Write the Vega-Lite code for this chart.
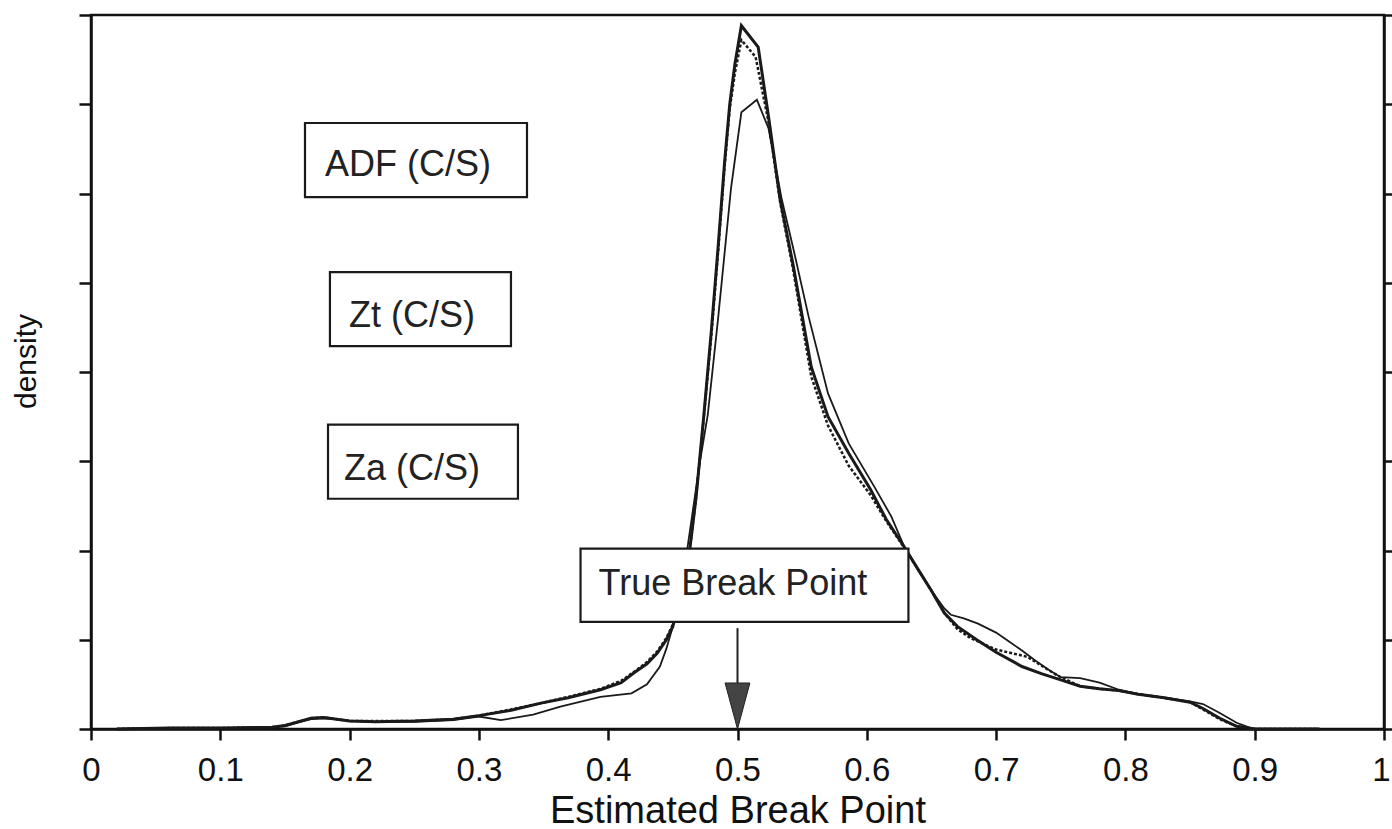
{
  "$schema": "https://vega.github.io/schema/vega-lite/v6.json",
  "width": 1293,
  "height": 714,
  "autosize": {"type": "none"},
  "padding": {"left": 91, "top": 15, "right": 8, "bottom": 100},
  "background": "white",
  "config": {
    "view": {"stroke": "#111", "strokeWidth": 2.5},
    "font": "Liberation Sans",
    "axis": {
      "domainColor": "#111", "domainWidth": 2.5, "tickColor": "#111", "tickWidth": 2.5,
      "labelColor": "#111", "titleColor": "#111", "grid": false,
      "labelFont": "Liberation Sans", "titleFont": "Liberation Sans",
      "labelFontWeight": "normal", "titleFontWeight": "normal"
    }
  },
  "datasets": {
    "curves": [
      {"s":"ADF","x":0.02,"y":0},{"s":"ADF","x":0.06,"y":0.01},{"s":"ADF","x":0.10,"y":0.01},{"s":"ADF","x":0.14,"y":0.02},{"s":"ADF","x":0.15,"y":0.04},{"s":"ADF","x":0.16,"y":0.08},{"s":"ADF","x":0.17,"y":0.12},{"s":"ADF","x":0.18,"y":0.13},{"s":"ADF","x":0.19,"y":0.11},{"s":"ADF","x":0.20,"y":0.09},{"s":"ADF","x":0.22,"y":0.08},{"s":"ADF","x":0.25,"y":0.09},{"s":"ADF","x":0.28,"y":0.11},{"s":"ADF","x":0.30,"y":0.15},{"s":"ADF","x":0.325,"y":0.21},{"s":"ADF","x":0.348,"y":0.29},{"s":"ADF","x":0.369,"y":0.35},{"s":"ADF","x":0.394,"y":0.44},{"s":"ADF","x":0.41,"y":0.52},{"s":"ADF","x":0.42,"y":0.63},{"s":"ADF","x":0.43,"y":0.73},{"s":"ADF","x":0.438,"y":0.85},{"s":"ADF","x":0.445,"y":1.0},{"s":"ADF","x":0.45,"y":1.15},{"s":"ADF","x":0.456,"y":1.5},{"s":"ADF","x":0.463,"y":2.0},{"s":"ADF","x":0.468,"y":2.6},{"s":"ADF","x":0.474,"y":3.52},{"s":"ADF","x":0.48,"y":4.5},{"s":"ADF","x":0.485,"y":5.4},{"s":"ADF","x":0.49,"y":6.35},{"s":"ADF","x":0.494,"y":7.0},{"s":"ADF","x":0.498,"y":7.45},{"s":"ADF","x":0.503,"y":7.88},{"s":"ADF","x":0.516,"y":7.64},{"s":"ADF","x":0.524,"y":6.86},{"s":"ADF","x":0.533,"y":5.93},{"s":"ADF","x":0.543,"y":5.2},{"s":"ADF","x":0.557,"y":4.06},{"s":"ADF","x":0.57,"y":3.5},{"s":"ADF","x":0.586,"y":3.09},{"s":"ADF","x":0.603,"y":2.68},{"s":"ADF","x":0.615,"y":2.35},{"s":"ADF","x":0.629,"y":2.04},{"s":"ADF","x":0.64,"y":1.78},{"s":"ADF","x":0.65,"y":1.55},{"s":"ADF","x":0.66,"y":1.3},{"s":"ADF","x":0.67,"y":1.15},{"s":"ADF","x":0.685,"y":1.0},{"s":"ADF","x":0.70,"y":0.86},{"s":"ADF","x":0.72,"y":0.7},{"s":"ADF","x":0.735,"y":0.62},{"s":"ADF","x":0.75,"y":0.55},{"s":"ADF","x":0.765,"y":0.48},{"s":"ADF","x":0.78,"y":0.45},{"s":"ADF","x":0.795,"y":0.43},{"s":"ADF","x":0.81,"y":0.39},{"s":"ADF","x":0.83,"y":0.35},{"s":"ADF","x":0.85,"y":0.3},{"s":"ADF","x":0.86,"y":0.23},{"s":"ADF","x":0.873,"y":0.12},{"s":"ADF","x":0.886,"y":0.03},{"s":"ADF","x":0.9,"y":0},{"s":"ADF","x":0.95,"y":0},

      {"s":"Zt","x":0.02,"y":0},{"s":"Zt","x":0.06,"y":0.01},{"s":"Zt","x":0.10,"y":0.01},{"s":"Zt","x":0.14,"y":0.02},{"s":"Zt","x":0.15,"y":0.04},{"s":"Zt","x":0.16,"y":0.08},{"s":"Zt","x":0.17,"y":0.12},{"s":"Zt","x":0.18,"y":0.13},{"s":"Zt","x":0.19,"y":0.11},{"s":"Zt","x":0.20,"y":0.09},{"s":"Zt","x":0.22,"y":0.09},{"s":"Zt","x":0.25,"y":0.09},{"s":"Zt","x":0.28,"y":0.11},{"s":"Zt","x":0.30,"y":0.15},{"s":"Zt","x":0.325,"y":0.22},{"s":"Zt","x":0.348,"y":0.29},{"s":"Zt","x":0.369,"y":0.36},{"s":"Zt","x":0.394,"y":0.45},{"s":"Zt","x":0.41,"y":0.54},{"s":"Zt","x":0.42,"y":0.64},{"s":"Zt","x":0.43,"y":0.75},{"s":"Zt","x":0.438,"y":0.87},{"s":"Zt","x":0.445,"y":1.02},{"s":"Zt","x":0.45,"y":1.17},{"s":"Zt","x":0.456,"y":1.5},{"s":"Zt","x":0.463,"y":2.0},{"s":"Zt","x":0.468,"y":2.6},{"s":"Zt","x":0.474,"y":3.5},{"s":"Zt","x":0.48,"y":4.45},{"s":"Zt","x":0.485,"y":5.35},{"s":"Zt","x":0.49,"y":6.3},{"s":"Zt","x":0.494,"y":6.95},{"s":"Zt","x":0.498,"y":7.35},{"s":"Zt","x":0.503,"y":7.72},{"s":"Zt","x":0.514,"y":7.53},{"s":"Zt","x":0.524,"y":6.8},{"s":"Zt","x":0.533,"y":5.9},{"s":"Zt","x":0.543,"y":5.15},{"s":"Zt","x":0.557,"y":3.95},{"s":"Zt","x":0.57,"y":3.4},{"s":"Zt","x":0.586,"y":2.95},{"s":"Zt","x":0.603,"y":2.62},{"s":"Zt","x":0.615,"y":2.33},{"s":"Zt","x":0.629,"y":2.03},{"s":"Zt","x":0.64,"y":1.78},{"s":"Zt","x":0.65,"y":1.55},{"s":"Zt","x":0.66,"y":1.3},{"s":"Zt","x":0.67,"y":1.12},{"s":"Zt","x":0.68,"y":1.02},{"s":"Zt","x":0.70,"y":0.89},{"s":"Zt","x":0.724,"y":0.81},{"s":"Zt","x":0.744,"y":0.63},{"s":"Zt","x":0.75,"y":0.58},{"s":"Zt","x":0.765,"y":0.48},{"s":"Zt","x":0.78,"y":0.45},{"s":"Zt","x":0.795,"y":0.43},{"s":"Zt","x":0.81,"y":0.39},{"s":"Zt","x":0.83,"y":0.35},{"s":"Zt","x":0.85,"y":0.3},{"s":"Zt","x":0.86,"y":0.22},{"s":"Zt","x":0.873,"y":0.11},{"s":"Zt","x":0.886,"y":0.03},{"s":"Zt","x":0.9,"y":0},{"s":"Zt","x":0.95,"y":0},

      {"s":"Za","x":0.02,"y":0},{"s":"Za","x":0.06,"y":0.01},{"s":"Za","x":0.10,"y":0.01},{"s":"Za","x":0.14,"y":0.02},{"s":"Za","x":0.15,"y":0.03},{"s":"Za","x":0.16,"y":0.07},{"s":"Za","x":0.17,"y":0.11},{"s":"Za","x":0.18,"y":0.12},{"s":"Za","x":0.19,"y":0.11},{"s":"Za","x":0.20,"y":0.09},{"s":"Za","x":0.22,"y":0.08},{"s":"Za","x":0.25,"y":0.08},{"s":"Za","x":0.28,"y":0.1},{"s":"Za","x":0.30,"y":0.14},{"s":"Za","x":0.317,"y":0.10},{"s":"Za","x":0.342,"y":0.16},{"s":"Za","x":0.363,"y":0.25},{"s":"Za","x":0.394,"y":0.36},{"s":"Za","x":0.418,"y":0.40},{"s":"Za","x":0.43,"y":0.5},{"s":"Za","x":0.44,"y":0.7},{"s":"Za","x":0.445,"y":0.9},{"s":"Za","x":0.45,"y":1.15},{"s":"Za","x":0.455,"y":1.5},{"s":"Za","x":0.46,"y":1.9},{"s":"Za","x":0.466,"y":2.5},{"s":"Za","x":0.471,"y":3.0},{"s":"Za","x":0.477,"y":3.52},{"s":"Za","x":0.485,"y":4.6},{"s":"Za","x":0.495,"y":6.06},{"s":"Za","x":0.503,"y":6.91},{"s":"Za","x":0.515,"y":7.05},{"s":"Za","x":0.524,"y":6.73},{"s":"Za","x":0.534,"y":5.95},{"s":"Za","x":0.544,"y":5.33},{"s":"Za","x":0.555,"y":4.62},{"s":"Za","x":0.57,"y":3.76},{"s":"Za","x":0.586,"y":3.2},{"s":"Za","x":0.606,"y":2.71},{"s":"Za","x":0.619,"y":2.38},{"s":"Za","x":0.629,"y":2.04},{"s":"Za","x":0.64,"y":1.78},{"s":"Za","x":0.65,"y":1.55},{"s":"Za","x":0.66,"y":1.35},{"s":"Za","x":0.665,"y":1.28},{"s":"Za","x":0.675,"y":1.24},{"s":"Za","x":0.686,"y":1.18},{"s":"Za","x":0.70,"y":1.08},{"s":"Za","x":0.71,"y":0.98},{"s":"Za","x":0.72,"y":0.88},{"s":"Za","x":0.73,"y":0.77},{"s":"Za","x":0.74,"y":0.67},{"s":"Za","x":0.75,"y":0.58},{"s":"Za","x":0.765,"y":0.57},{"s":"Za","x":0.78,"y":0.52},{"s":"Za","x":0.795,"y":0.44},{"s":"Za","x":0.81,"y":0.39},{"s":"Za","x":0.83,"y":0.35},{"s":"Za","x":0.85,"y":0.31},{"s":"Za","x":0.86,"y":0.28},{"s":"Za","x":0.873,"y":0.18},{"s":"Za","x":0.886,"y":0.07},{"s":"Za","x":0.895,"y":0.02},{"s":"Za","x":0.9,"y":0},{"s":"Za","x":0.95,"y":0}
    ],
    "boxes": [
      {"label":"ADF (C/S)","x1":0.1655,"x2":0.3372,"y1":5.96,"y2":6.79,"tx":0.2452,"ty":6.2},
      {"label":"Zt (C/S)","x1":0.1848,"x2":0.3248,"y1":4.29,"y2":5.12,"tx":0.2483,"ty":4.5},
      {"label":"Za (C/S)","x1":0.1833,"x2":0.3302,"y1":2.58,"y2":3.41,"tx":0.2483,"ty":2.79},
      {"label":"True Break Point","x1":0.3786,"x2":0.6322,"y1":1.2,"y2":2.02,"tx":0.4965,"ty":1.5}
    ],
    "arrow": [{"x":0.5,"y":1.13,"y2":0.5,"hy":0.258}]
  },
  "resolve": {"axis": {"x": "independent", "y": "independent"}},
  "layer": [
    {
      "data": {"name": "curves"},
      "transform": [{"filter": "datum.s === 'Za'"}],
      "mark": {"type": "line", "color": "#1a1a1a", "strokeWidth": 1.8, "interpolate": "linear"},
      "encoding": {
        "x": {"field": "x", "type": "quantitative", "scale": {"domain": [0, 1], "nice": false},
              "axis": {"orient": "bottom", "values": [0,0.1,0.2,0.3,0.4,0.5,0.6,0.7,0.8,0.9,1], "format": "~g",
                       "labelFontSize": 33, "labelPadding": 14, "tickSize": 11, "labelFlush": false,
                       "labelAlign": {"condition": {"test": "datum.value >= 0.99", "value": "right"}, "value": "center"},
                       "labelOffset": {"condition": {"test": "datum.value >= 0.99", "value": 6}, "value": 0},
                       "title": "Estimated Break Point", "titleFontSize": 38, "titlePadding": 5}},
        "y": {"field": "y", "type": "quantitative", "scale": {"domain": [0, 8], "nice": false},
              "axis": {"orient": "left", "values": [0,1,2,3,4,5,6,7,8], "labels": false, "tickSize": 12,
                       "title": "density", "titleFontSize": 30, "titlePadding": 36, "titleY": 346}}
      }
    },
    {
      "data": {"name": "curves"},
      "transform": [{"filter": "datum.s === 'ADF'"}],
      "mark": {"type": "line", "color": "#1a1a1a", "strokeWidth": 3, "interpolate": "linear"},
      "encoding": {
        "x": {"field": "x", "type": "quantitative", "axis": null},
        "y": {"field": "y", "type": "quantitative", "axis": null}
      }
    },
    {
      "data": {"name": "curves"},
      "transform": [{"filter": "datum.s === 'Zt'"}],
      "mark": {"type": "line", "color": "#1a1a1a", "strokeWidth": 2.5, "strokeDash": [3, 2], "interpolate": "linear"},
      "encoding": {
        "x": {"field": "x", "type": "quantitative", "axis": null},
        "y": {"field": "y", "type": "quantitative", "axis": null}
      }
    },
    {
      "data": {"name": "boxes"},
      "mark": {"type": "rect", "fill": "white", "stroke": "#1a1a1a", "strokeWidth": 2.2},
      "encoding": {
        "x": {"field": "x1", "type": "quantitative", "axis": null},
        "x2": {"field": "x2"},
        "y": {"field": "y1", "type": "quantitative", "axis": null},
        "y2": {"field": "y2"}
      }
    },
    {
      "data": {"name": "boxes"},
      "mark": {"type": "text", "fontSize": 36, "align": "center", "baseline": "alphabetic", "color": "#222", "font": "Liberation Sans"},
      "encoding": {
        "x": {"field": "tx", "type": "quantitative", "axis": null},
        "y": {"field": "ty", "type": "quantitative", "axis": null},
        "text": {"field": "label"}
      }
    },
    {
      "data": {"name": "arrow"},
      "mark": {"type": "rule", "color": "#222", "strokeWidth": 2},
      "encoding": {
        "x": {"field": "x", "type": "quantitative", "axis": null},
        "y": {"field": "y", "type": "quantitative",
              "axis": {"orient": "right", "values": [0,1,2,3,4,5,6,7,8], "labels": false, "tickSize": 9, "title": null}},
        "y2": {"field": "y2"}
      }
    },
    {
      "data": {"name": "arrow"},
      "mark": {"type": "point", "shape": "M -0.54 -1 L 0.54 -1 L 0 1 Z", "size": 2116, "filled": true, "fill": "#444", "stroke": "#222", "strokeWidth": 1, "opacity": 1},
      "encoding": {
        "x": {"field": "x", "type": "quantitative", "axis": null},
        "y": {"field": "hy", "type": "quantitative", "axis": null}
      }
    }
  ]
}
